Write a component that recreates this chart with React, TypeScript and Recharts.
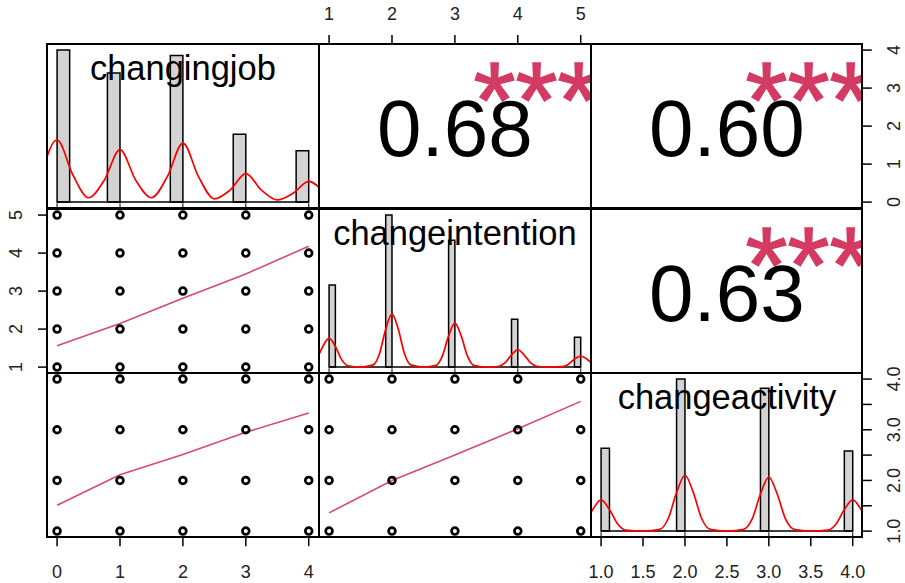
import React from 'react';
import { ComposedChart, XAxis, YAxis, Line, Scatter, ReferenceArea, ReferenceLine } from 'recharts';

const FONT = '"Liberation Sans", Arial, Helvetica, sans-serif';
const W = 271.8;
const H = 164.2;
const COL_X = [47, 318.8, 590.6];
const ROW_Y = [44.3, 208.5, 372.7];
const AXIS = 50;
const SMOOTH = '#DA4A69';
const STAR = '#D43A62';

// variables on the diagonal
const varNames = ['changingjob', 'changeintention', 'changeactivity'];
const jobRange = [0, 4];
const intentionRange = [1, 5];
const activityRange = [1, 4];

// axis ticks
const jobTicks = [0, 1, 2, 3, 4];
const intentionTicks = [1, 2, 3, 4, 5];
const activityTicks = [1, 1.5, 2, 2.5, 3, 3.5, 4];

// correlations (upper panels) and significance
const corJobIntention = '0.68';
const corJobActivity = '0.60';
const corIntentionActivity = '0.63';
const signif = '***';

// histograms (bin start, density)
const jobBinWidth = 0.2;
const jobBinStart = [0, 0.8, 1.8, 2.8, 3.8];
const jobDensity = [1.39, 1.18, 1.34, 0.62, 0.47];
const intentionBinWidth = 0.1;
const intentionBinStart = [1.0, 1.9, 2.9, 3.9, 4.9];
const intentionDensity = [1.87, 3.46, 2.89, 1.09, 0.68];
const activityBinWidth = 0.1;
const activityBinStart = [1.0, 1.9, 2.9, 3.9];
const activityDensity = [1.81, 3.32, 3.12, 1.75];

// kernel density curves
const jobKdeX = [-0.25, 0, 0.25, 0.5, 0.75, 1, 1.25, 1.5, 1.75, 2, 2.25, 2.5, 2.75, 3, 3.25, 3.5, 3.75, 4, 4.25];
const jobKdeY = [0.25, 0.57, 0.25, 0.04, 0.2, 0.48, 0.2, 0.04, 0.23, 0.54, 0.23, 0.03, 0.11, 0.26, 0.11, 0.02, 0.08, 0.19, 0.08];
const intentionKdeX = [0.7, 0.8, 0.9, 1.0, 1.1, 1.2, 1.3, 1.5, 1.7, 1.8, 1.9, 2.0, 2.1, 2.2, 2.3, 2.5, 2.7, 2.8, 2.9, 3.0, 3.1, 3.2, 3.3, 3.5, 3.7, 3.8, 3.9, 4.0, 4.1, 4.2, 4.3, 4.5, 4.7, 4.8, 4.9, 5.0, 5.1, 5.2, 5.3];
const intentionKdeY = [0.03, 0.17, 0.47, 0.66, 0.47, 0.17, 0.03, 0, 0.05, 0.3, 0.86, 1.21, 0.86, 0.3, 0.05, 0, 0.04, 0.25, 0.71, 1.0, 0.71, 0.25, 0.04, 0, 0.02, 0.1, 0.28, 0.39, 0.28, 0.1, 0.02, 0, 0.01, 0.06, 0.18, 0.25, 0.18, 0.06, 0.01];
const activityKdeX = [0.7, 0.8, 0.9, 1.0, 1.1, 1.2, 1.3, 1.5, 1.7, 1.8, 1.9, 2.0, 2.1, 2.2, 2.3, 2.5, 2.7, 2.8, 2.9, 3.0, 3.1, 3.2, 3.3, 3.5, 3.7, 3.8, 3.9, 4.0, 4.1, 4.2, 4.3];
const activityKdeY = [0.02, 0.15, 0.47, 0.68, 0.47, 0.15, 0.02, 0, 0.04, 0.27, 0.84, 1.22, 0.84, 0.27, 0.04, 0, 0.04, 0.26, 0.81, 1.18, 0.81, 0.26, 0.04, 0, 0.02, 0.15, 0.47, 0.68, 0.47, 0.15, 0.02];

// scatter points (x, y)
const jobVsIntention = [
  [0, 1], [1, 1], [2, 1], [3, 1], [4, 1],
  [0, 2], [1, 2], [2, 2], [3, 2], [4, 2],
  [0, 3], [1, 3], [2, 3], [3, 3], [4, 3],
  [0, 4], [1, 4], [2, 4], [3, 4], [4, 4],
  [0, 5], [1, 5], [2, 5], [3, 5], [4, 5],
];
const jobVsActivity = [
  [0, 1], [1, 1], [2, 1], [3, 1], [4, 1],
  [0, 2], [1, 2], [2, 2], [3, 2], [4, 2],
  [0, 3], [1, 3], [2, 3], [3, 3], [4, 3],
  [0, 4], [1, 4], [2, 4], [3, 4], [4, 4],
];
const intentionVsActivity = [
  [1, 1], [2, 1], [3, 1], [4, 1], [5, 1],
  [1, 2], [2, 2], [3, 2], [4, 2], [5, 2],
  [1, 3], [2, 3], [3, 3], [4, 3], [5, 3],
  [1, 4], [2, 4], [3, 4], [4, 4], [5, 4],
];

// lowess fits
const jobSmoothX = [0, 1, 2, 3, 4];
const jobIntentionSmooth = [1.56, 2.15, 2.81, 3.45, 4.18];
const jobActivitySmooth = [1.51, 2.11, 2.51, 2.95, 3.33];
const intentionSmoothX = [1, 2, 3, 4, 5];
const intentionActivitySmooth = [1.36, 2.0, 2.5, 3.02, 3.56];

const pad = (r: number[]) => [r[0] - 0.04 * (r[1] - r[0]), r[1] + 0.04 * (r[1] - r[0])];
const histDomain = (d: number[]) => {
  const m = Math.max(...d);
  return [-0.04 * m, 1.04 * m];
};
const zip = (xs: number[], ys: number[]) => xs.map((x, i) => ({ x, y: ys[i] }));

const tickText = { fontSize: 18, fontFamily: FONT, fill: '#222' };

const BottomTick = (fmt: (v: number) => string) => (p: any) => (
  <text x={p.x} y={p.y + 32} textAnchor="middle" {...tickText}>{fmt(p.payload.value)}</text>
);
const TopTick = (fmt: (v: number) => string) => (p: any) => (
  <text x={p.x} y={p.y - 15} textAnchor="middle" {...tickText}>{fmt(p.payload.value)}</text>
);
const LeftTick = (fmt: (v: number) => string) => (p: any) => {
  const bx = p.x - 16;
  return <text x={bx} y={p.y} transform={`rotate(-90 ${bx} ${p.y})`} textAnchor="middle" {...tickText}>{fmt(p.payload.value)}</text>;
};
const RightTick = (fmt: (v: number) => string) => (p: any) => {
  const bx = p.x + 28;
  return <text x={bx} y={p.y} transform={`rotate(-90 ${bx} ${p.y})`} textAnchor="middle" {...tickText}>{fmt(p.payload.value)}</text>;
};

const intFmt = (v: number) => String(v);
const oneDec = (v: number) => v.toFixed(1);
const onlyWhole = (v: number) => (Number.isInteger(v) ? v.toFixed(1) : '');

const Ring = (p: any) => <circle cx={p.cx} cy={p.cy} r={3.4} fill="none" stroke="#000" strokeWidth={2.7} />;

interface PanelProps {
  row: number;
  col: number;
  xDomain: number[];
  yDomain: number[];
  hDomain?: number[];
  top?: number[];
  bottom?: number[];
  left?: number[];
  right?: number[];
  xFmt?: (v: number) => string;
  yFmt?: (v: number) => string;
  children?: React.ReactNode;
}

function Panel({ row, col, xDomain, yDomain, hDomain, top, bottom, left, right, xFmt = intFmt, yFmt = intFmt, children }: PanelProps) {
  const width = W + (left ? AXIS : 0) + (right ? AXIS : 0);
  const height = H + (top ? AXIS : 0) + (bottom ? AXIS : 0);
  const xTicks = top || bottom;
  const yTicks = left || right;
  // hidden helper axes sit on the side without a visible axis and take no room
  const xFree = top ? 'bottom' : 'top';
  const yFree = left ? 'right' : 'left';
  return (
    <div style={{ position: 'absolute', left: COL_X[col] - (left ? AXIS : 0), top: ROW_Y[row] - (top ? AXIS : 0) }}>
      <ComposedChart width={width} height={height} margin={{ top: 0, right: 0, bottom: 0, left: 0 }}>
        <XAxis
          xAxisId="x" type="number" dataKey="x" domain={xDomain} allowDataOverflow
          hide={!xTicks} orientation={top ? 'top' : 'bottom'} height={xTicks ? AXIS : 0}
          ticks={xTicks} interval={0} axisLine={false} tickSize={9} tickMargin={0}
          tickLine={{ stroke: '#000', strokeWidth: 1.5 }}
          tick={top ? TopTick(xFmt) : BottomTick(xFmt)}
        />
        <YAxis
          yAxisId="y" type="number" dataKey="y" domain={yDomain} allowDataOverflow
          hide={!yTicks} orientation={left ? 'left' : 'right'} width={yTicks ? AXIS : 0}
          ticks={yTicks} interval={0} axisLine={false} tickSize={9} tickMargin={0}
          tickLine={{ stroke: '#000', strokeWidth: 1.5 }}
          tick={left ? LeftTick(yFmt) : RightTick(yFmt)}
        />
        <XAxis xAxisId="u" type="number" dataKey="x" domain={[0, 1]} allowDataOverflow hide height={0} orientation={xFree} />
        <YAxis yAxisId="u" type="number" dataKey="y" domain={[0, 1]} allowDataOverflow hide width={0} orientation={yFree} />
        <YAxis yAxisId="h" type="number" dataKey="y" domain={hDomain || [0, 1]} allowDataOverflow hide width={0} orientation={yFree} />
        {children}
      </ComposedChart>
    </div>
  );
}

function histItems(binStart: number[], binWidth: number, density: number[], kdeX: number[], kdeY: number[], rug: number[], label: string) {
  const hd = histDomain(density);
  const rugTop = hd[0] + 0.03 * (hd[1] - hd[0]);
  return [
    ...binStart.map((b, i) => (
      <ReferenceArea key={`bar${i}`} xAxisId="x" yAxisId="h" x1={b} x2={b + binWidth} y1={0} y2={density[i]}
        fill="#D3D3D3" fillOpacity={1} stroke="#000" strokeWidth={1.5} />
    )),
    <ReferenceLine key="base" xAxisId="x" yAxisId="h"
      segment={[{ x: binStart[0], y: 0 }, { x: binStart[binStart.length - 1] + binWidth, y: 0 }]}
      stroke="#000" strokeWidth={1.5} />,
    ...rug.map((v, i) => (
      <ReferenceLine key={`rug${i}`} xAxisId="x" yAxisId="h" segment={[{ x: v, y: hd[0] }, { x: v, y: rugTop }]} stroke="#000" strokeWidth={1} />
    )),
    <Line key="kde" xAxisId="x" yAxisId="h" data={zip(kdeX, kdeY)} dataKey="y" type="monotone"
      stroke="#FF0000" strokeWidth={1.7} dot={false} isAnimationActive={false} />,
    <Scatter key="lab" xAxisId="u" yAxisId="u" data={[{ x: 0.5, y: 0.78, label }]} isAnimationActive={false}
      shape={(p: any) => (
        <text x={p.cx} y={p.cy} textAnchor="middle" fontSize={34.5} fontFamily={FONT} fill="#000">{p.payload.label}</text>
      )} />,
  ];
}

function corItems(value: string) {
  return [
    <Scatter key="cor" xAxisId="u" yAxisId="u" data={[{ x: 0.5, y: 0.5, label: value }]} isAnimationActive={false}
      shape={(p: any) => (
        <text x={p.cx} y={p.cy + 30} textAnchor="middle" fontSize={80} fontFamily={FONT} fill="#000">{p.payload.label}</text>
      )} />,
    <Scatter key="sig" xAxisId="u" yAxisId="u" data={[{ x: 0.8, y: 0.8, label: signif }]} isAnimationActive={false}
      shape={(p: any) => (
        <text x={p.cx} y={p.cy + 60} textAnchor="middle" fontSize={108} fontFamily={FONT} fill={STAR}
          stroke={STAR} strokeWidth={1.5}>{p.payload.label}</text>
      )} />,
  ];
}

function scatterItems(pairs: number[][], sx: number[], sy: number[]) {
  return [
    <Scatter key="pts" xAxisId="x" yAxisId="y" data={pairs.map(([x, y]) => ({ x, y }))} shape={Ring} isAnimationActive={false} />,
    <Line key="smooth" xAxisId="x" yAxisId="y" data={zip(sx, sy)} dataKey="y" type="linear"
      stroke={SMOOTH} strokeWidth={1.6} dot={false} isAnimationActive={false} />,
  ];
}

export default function App() {
  const jobD = pad(jobRange);
  const intD = pad(intentionRange);
  const actD = pad(activityRange);
  const boxes = [0, 1, 2].flatMap((r) => [0, 1, 2].map((c) => ({ r, c })));
  return (
    <div style={{ position: 'absolute', left: 0, top: 0, width: 905, height: 583, background: '#fff', overflow: 'hidden' }}>
      <style>{'.recharts-surface { overflow: visible; } .recharts-wrapper { overflow: visible; }'}</style>
      {/* row 1 */}
      <Panel row={0} col={0} xDomain={jobD} yDomain={jobD} hDomain={histDomain(jobDensity)}>
        {histItems(jobBinStart, jobBinWidth, jobDensity, jobKdeX, jobKdeY, jobTicks, varNames[0])}
      </Panel>
      <Panel row={0} col={1} xDomain={intD} yDomain={jobD} top={intentionTicks}>
        {corItems(corJobIntention)}
      </Panel>
      <Panel row={0} col={2} xDomain={actD} yDomain={jobD} right={jobTicks}>
        {corItems(corJobActivity)}
      </Panel>
      {/* row 2 */}
      <Panel row={1} col={0} xDomain={jobD} yDomain={intD} left={intentionTicks}>
        {scatterItems(jobVsIntention, jobSmoothX, jobIntentionSmooth)}
      </Panel>
      <Panel row={1} col={1} xDomain={intD} yDomain={intD} hDomain={histDomain(intentionDensity)}>
        {histItems(intentionBinStart, intentionBinWidth, intentionDensity, intentionKdeX, intentionKdeY, intentionTicks, varNames[1])}
      </Panel>
      <Panel row={1} col={2} xDomain={actD} yDomain={intD}>
        {corItems(corIntentionActivity)}
      </Panel>
      {/* row 3 */}
      <Panel row={2} col={0} xDomain={jobD} yDomain={actD} bottom={jobTicks}>
        {scatterItems(jobVsActivity, jobSmoothX, jobActivitySmooth)}
      </Panel>
      <Panel row={2} col={1} xDomain={intD} yDomain={actD}>
        {scatterItems(intentionVsActivity, intentionSmoothX, intentionActivitySmooth)}
      </Panel>
      <Panel row={2} col={2} xDomain={actD} yDomain={actD} hDomain={histDomain(activityDensity)}
        bottom={activityTicks} right={activityTicks} xFmt={oneDec} yFmt={onlyWhole}>
        {histItems(activityBinStart, activityBinWidth, activityDensity, activityKdeX, activityKdeY, [1, 2, 3, 4], varNames[2])}
      </Panel>
      {boxes.map(({ r, c }) => (
        <div key={`${r}-${c}`} style={{
          position: 'absolute', left: COL_X[c] - 1, top: ROW_Y[r] - 1, width: W + 2, height: H + 2,
          border: '2px solid #000', boxSizing: 'border-box', pointerEvents: 'none',
        }} />
      ))}
    </div>
  );
}
